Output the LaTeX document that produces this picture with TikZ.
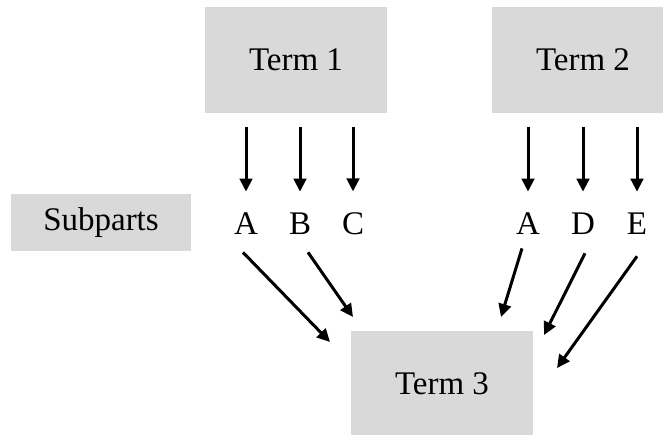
\documentclass[tikz,border=0pt]{standalone}
\usepackage{fontspec}
\setmainfont{Liberation Serif}
\usetikzlibrary{arrows.meta}
\definecolor{boxgray}{HTML}{D9D9D9}
\begin{document}
\begin{tikzpicture}[x=1pt,y=1pt,>={Triangle[length=13pt,width=12.5pt]},line width=3pt,
	font=\fontsize{33}{40}\selectfont,
	term/.style={fill=boxgray,minimum width=182pt,minimum height=106pt,inner sep=0pt},
	part/.style={inner sep=0pt}]
	\useasboundingbox (0,0) rectangle (663,434);
	\clip (0,0) rectangle (663,434);
	\node[term] (term1) at (296,374) {Term 1};
	\node[term] (term2) at (583,374) {Term 2};
	\node[term] (term3) at (442,50) {Term 3};
	\node[term,minimum width=180pt,minimum height=57pt] (sub) at (101,211.5) {Subparts};
	\node[part] (a1) at (246,210) {A};
	\node[part] (b1) at (300,210) {B};
	\node[part] (c1) at (353,210) {C};
	\node[part] (a2) at (528,210) {A};
	\node[part] (d2) at (583,210) {D};
	\node[part] (e2) at (637,210) {E};
	\foreach \p in {a1,b1,c1}
		\draw[->,shorten <=13pt,shorten >=20pt] (term1.south -| \p) -- (\p.north);
	\foreach \p in {a2,d2,e2}
		\draw[->,shorten <=13pt,shorten >=20pt] (term2.south -| \p) -- (\p.north);
	\coordinate (in1) at (330,92);
	\coordinate (in2) at (353,117);
	\coordinate (in3) at (501,117);
	\coordinate (in4) at (544,99);
	\coordinate (in5) at (557,66);
	\draw[->] ([shift={(-3,-16)}]a1.south) -- (in1);
	\draw[->] ([shift={(8,-16)}]b1.south) -- (in2);
	\draw[->] ([shift={(-6,-12)}]a2.south) -- (in3);
	\draw[->] ([shift={(2,-17)}]d2.south) -- (in4);
	\draw[->] ([shift={(0,-20)}]e2.south) -- (in5);
\end{tikzpicture}
\end{document}
